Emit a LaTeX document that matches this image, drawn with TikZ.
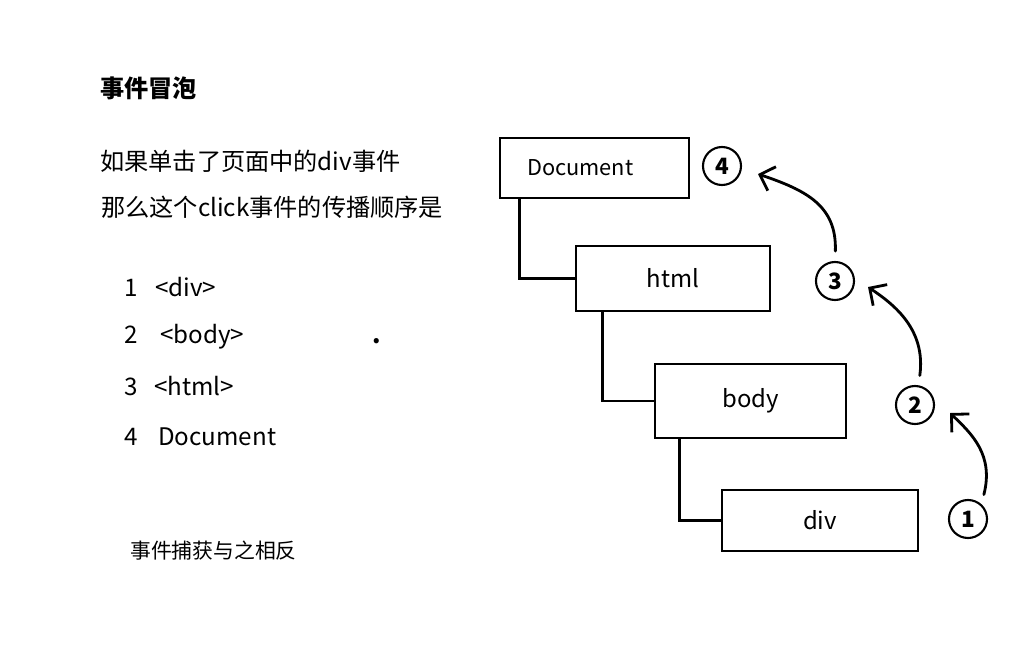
\documentclass[tikz,border=0pt]{standalone}
\usepackage{fontspec}
\setmainfont{Noto Sans CJK SC}
\usetikzlibrary{arrows.meta}
\tikzset{>={Straight Barb[length=9pt,width=18pt]}}

\begin{document}
\begin{tikzpicture}[x=0.025cm, y=-0.025cm,
    box/.style={draw, line width=2pt, inner sep=0pt, font=\fontsize{17}{20}\selectfont},
    num/.style={draw, circle, line width=1.5pt, minimum size=0.95cm, inner sep=0pt, font=\fontsize{16}{18}\selectfont\bfseries},
    txt/.style={anchor=west, inner sep=0pt, font=\fontsize{17.2}{20}\selectfont},
    item/.style={txt, anchor=base west},
    arr/.style={->, line width=2pt, line cap=round}]
    \useasboundingbox (0, 0) rectangle (1026, 671);
    % left text
    \node[txt, font=\fontsize{17.2}{20}\selectfont\bfseries] (title) at (100, 88) {事件冒泡};
    \node[txt] (line1) at (100, 161) {如果单击了页面中的div事件};
    \node[txt] (line2) at (101, 207) {那么这个click事件的传播顺序是};
    \node[item] (n1) at (124, 296) {1};
    \node[item] (t1) at (155, 296) {<div>};
    \node[item] (n2) at (124, 343) {2};
    \node[item] (t2) at (160, 343) {<body>};
    \node[item] (n3) at (124, 395) {3};
    \node[item] (t3) at (154, 395) {<html>};
    \node[item] (n4) at (124, 445) {4};
    \node[item] (t4) at (158, 445) {Document};
    \node[item, font=\fontsize{17.2}{20}\selectfont\bfseries] (dot) at (372, 343) {.};
    \node[txt, font=\fontsize{14.8}{18}\selectfont] (note) at (130, 551) {事件捕获与之相反};
    % tree
    \node[box, minimum width=4.725cm, minimum height=1.5cm, font=\fontsize{15.5}{18}\selectfont] (doc) at (594.5, 168) {Document\kern1.3em};
    \node[box, minimum width=4.85cm, minimum height=1.625cm] (html) at (673, 278.5) {html};
    \node[box, minimum width=4.775cm, minimum height=1.85cm] (body) at (750.5, 401) {body};
    \node[box, minimum width=4.9cm, minimum height=1.525cm] (div) at (820, 520.5) {div};
    \draw[line width=2pt] ([xshift=0.525cm]doc.south west) |- (html.west);
    \draw[line width=2pt] ([xshift=0.7cm]html.south west) |- (body.west);
    \draw[line width=2pt] ([xshift=0.65cm]body.south west) |- (div.west);
    % bubbling order
    \node[num] (c4) at (722, 166) {4};
    \node[num] (c3) at (835, 281) {3};
    \node[num] (c2) at (915, 405) {2};
    \node[num] (c1) at (968, 519) {1};
    \coordinate (p2) at (950, 413);
    \coordinate (p3) at (868, 287);
    \coordinate (p4) at (758, 174);
    \draw[arr, shorten <=7pt] (c1.48) .. controls (994, 455) and (972, 434) .. (p2);
    \draw[arr, shorten <=7pt] (c2.80) .. controls (926, 330) and (895, 305) .. (p3);
    \draw[arr, shorten <=7pt] (c3.north) .. controls (837, 205) and (805, 190) .. (p4);
\end{tikzpicture}
\end{document}
